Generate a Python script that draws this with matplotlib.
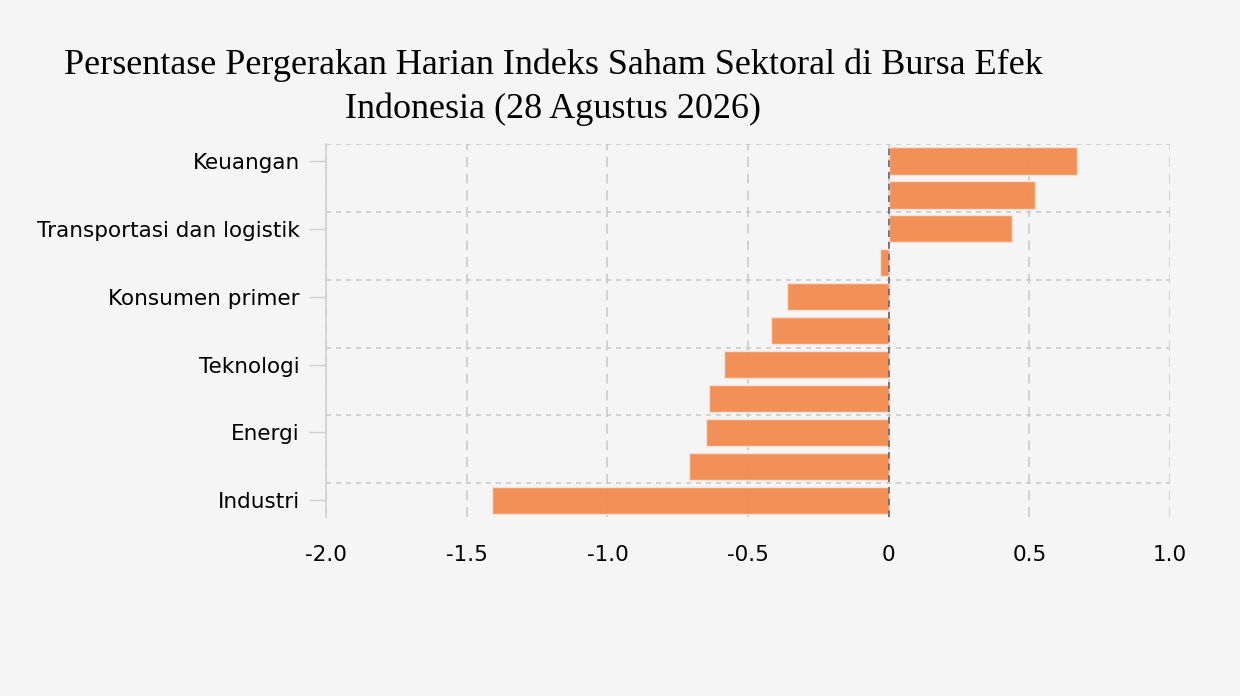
import numpy as np
import matplotlib.pyplot as plt
from matplotlib.ticker import FixedLocator

plt.rcParams["font.family"] = ["DejaVu Sans"]

# Data (top to bottom)
sectors = ["Keuangan", "Properti dan real estat", "Transportasi dan logistik",
           "Infrastruktur", "Konsumen primer", "Kesehatan", "Teknologi",
           "Barang baku", "Energi", "Konsumen nonprimer", "Industri"]
change_pct = [0.67, 0.52, 0.44, -0.03, -0.36, -0.42, -0.585, -0.64, -0.65, -0.71, -1.41]
x_ticks = [-2.0, -1.5, -1.0, -0.5, 0, 0.5, 1.0]
x_tick_labels = ["-2.0", "-1.5", "-1.0", "-0.5", "0", "0.5", "1.0"]

title = "Persentase Pergerakan Harian Indeks Saham Sektoral di Bursa Efek\nIndonesia (28 Agustus 2026)"

bg = "#f5f5f5"
fig = plt.figure(figsize=(12.4, 6.96), dpi=100, facecolor=bg)
ax = fig.add_axes([0.263, 0.257, 0.6805, 0.536], facecolor=bg)

y = np.arange(len(sectors))
ax.barh(y, change_pct, height=0.8, color="#F28B4F", alpha=0.95,
        edgecolor="#f7e3da", linewidth=1.0, zorder=3)

ax.set_xlim(-2.0, 1.0)
ax.set_ylim(len(sectors) - 0.5, -0.5)

# y ticks: only every other label shown
ax.set_yticks(y[::2])
ax.set_yticklabels(sectors[::2], fontsize=15.5)
ax.yaxis.set_minor_locator(FixedLocator(y[::2] - 0.5))
ax.tick_params(axis="y", which="major", length=12, width=1, color="#d0d0d0", pad=7)
ax.tick_params(axis="y", which="minor", length=0)

ax.set_xticks(x_ticks)
ax.set_xticklabels(x_tick_labels, fontsize=15.5)
ax.tick_params(axis="x", length=0, pad=20)

# grid
ax.grid(axis="x", which="major", color="#cccccc", linestyle=(0, (6, 4)), linewidth=1.2, zorder=1)
ax.grid(axis="y", which="minor", color="#cccccc", linestyle=(0, (3, 3)), linewidth=1.2, zorder=1)
ax.grid(axis="y", which="major", visible=False)
ax.axvline(0, color="#666666", linestyle=(0, (4, 3)), linewidth=1.2, zorder=4)

for s in ["top", "right", "bottom"]:
    ax.spines[s].set_visible(False)
ax.spines["left"].set_color("#d0d0d0")
ax.spines["left"].set_linewidth(1.2)

fig.text(0.446, 0.93, title, ha="center", va="top", fontsize=26,
         family="Liberation Serif", linespacing=1.42)

fig.savefig("out.png", dpi=100, facecolor=bg)
